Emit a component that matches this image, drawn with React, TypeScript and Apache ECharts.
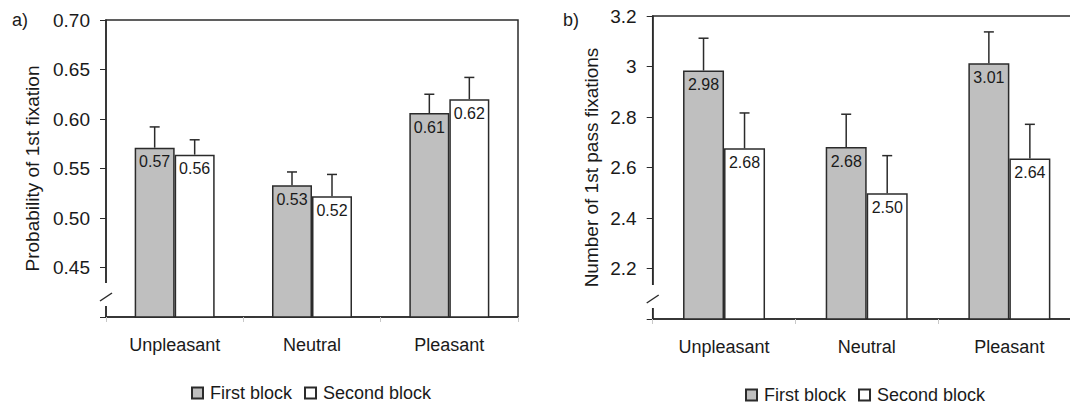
import React, { useEffect, useRef } from "react";
import * as echarts from "echarts";

const categories = ["Unpleasant", "Neutral", "Pleasant"];
const seriesNames = ["First block", "Second block"];

// Panel a) Probability of 1st fixation
const probFirst = [0.571, 0.533, 0.606];
const probFirstErr = [0.021, 0.0135, 0.019];
const probSecond = [0.564, 0.522, 0.62];
const probSecondErr = [0.015, 0.022, 0.022];

// Panel b) Number of 1st pass fixations
const numFirst = [2.984, 2.681, 3.013];
const numFirstErr = [0.128, 0.13, 0.124];
const numSecond = [2.676, 2.498, 2.636];
const numSecondErr = [0.14, 0.149, 0.135];

const FONT = "'Liberation Sans', Arial, sans-serif";
const DARK = "#2b2b2b";
const GRAY = "#bfbfbf";

const W = 1090;
const H = 404;
const gridA = { left: 106, top: 20, right: W - 518, bottom: H - 317 };
const gridB = { left: 652.7, top: 16, right: W - 1080.7, bottom: H - 319 };
const barWA = 40;
const barWB = 41;

function errSeries(name: string, xi: number, vals: number[], errs: number[], offset: number) {
  return {
    type: "custom",
    name,
    xAxisIndex: xi,
    yAxisIndex: xi,
    z: 5,
    silent: true,
    data: vals.map((v, i) => [i, v, errs[i]]),
    renderItem: (params: any, api: any) => {
      const c = api.value(0);
      const v = api.value(1);
      const e = api.value(2);
      const base = api.coord([c, v]);
      const top = api.coord([c, v + e]);
      const x = base[0] + offset;
      const st = { stroke: DARK, lineWidth: 1.5 };
      return {
        type: "group",
        children: [
          { type: "line", shape: { x1: x, y1: base[1], x2: x, y2: top[1] }, style: st },
          { type: "line", shape: { x1: x - 5, y1: top[1], x2: x + 5, y2: top[1] }, style: st },
        ],
      };
    },
  };
}

function barSeries(name: string, xi: number, vals: number[], color: string, bw: number) {
  return {
    type: "bar",
    name,
    xAxisIndex: xi,
    yAxisIndex: xi,
    barWidth: bw,
    barGap: "0%",
    data: vals,
    itemStyle: { color, borderColor: DARK, borderWidth: 1.5 },
    label: {
      show: true,
      position: "insideTop",
      distance: 6,
      fontSize: 16,
      color: "#1a1a1a",
      fontFamily: FONT,
      formatter: (p: any) => Number(p.value).toFixed(2),
    },
  };
}

function breakMark(g: { left: number; bottom: number }) {
  const ax = g.left;
  const by = H - g.bottom;
  return [
    {
      type: "rect",
      z: 100,
      shape: { x: ax - 3, y: by - 34, width: 6, height: 23 },
      style: { fill: "#fff" },
    },
    {
      type: "line",
      z: 101,
      shape: { x1: ax - 6, y1: by - 16, x2: ax + 6, y2: by - 24 },
      style: { stroke: DARK, lineWidth: 1.5 },
    },
  ];
}

export default function App() {
  const ref = useRef<HTMLDivElement>(null);
  useEffect(() => {
    if (!ref.current) return;
    const chart = echarts.init(ref.current, null, { renderer: "svg" });
    const axisCommonX = {
      type: "category",
      data: categories,
      axisLine: { lineStyle: { color: DARK, width: 1.5 } },
      axisTick: { show: true, length: 5, lineStyle: { color: "#c8c8c8" } },
      axisLabel: { fontSize: 18, color: "#1a1a1a", margin: 19, fontFamily: FONT },
    };
    const yCommon = {
      type: "value",
      nameLocation: "middle",
      nameTextStyle: { fontSize: 19, color: "#1a1a1a", fontFamily: FONT },
      axisLine: { show: true, lineStyle: { color: DARK, width: 1.5 } },
      axisTick: { show: true, length: 6, lineStyle: { color: DARK, width: 1 } },
      splitLine: { show: false },
    };
    const legendCommon = {
      data: seriesNames,
      orient: "horizontal",
      itemWidth: 11,
      itemHeight: 11,
      itemGap: 12,
      icon: "rect",
      textStyle: { fontSize: 18, color: "#1a1a1a", fontFamily: FONT, padding: [0, 0, 0, 2] },
    };
    chart.setOption({
      animation: false,
      textStyle: { fontFamily: FONT },
      title: [
        { text: "a)", left: 7, top: 6, textStyle: { fontSize: 18, fontWeight: "normal", color: "#1a1a1a", fontFamily: FONT } },
        { text: "b)", left: 558, top: 6, textStyle: { fontSize: 18, fontWeight: "normal", color: "#1a1a1a", fontFamily: FONT } },
      ],
      legend: [
        { ...legendCommon, left: 186, top: 379 },
        { ...legendCommon, left: 740, top: 381 },
      ],
      grid: [
        { ...gridA, show: true, borderColor: DARK, borderWidth: 1.5, backgroundColor: "transparent" },
        { ...gridB, show: true, borderColor: DARK, borderWidth: 1.5, backgroundColor: "transparent" },
      ],
      xAxis: [
        { ...axisCommonX, gridIndex: 0 },
        { ...axisCommonX, gridIndex: 1 },
      ],
      yAxis: [
        {
          ...yCommon,
          gridIndex: 0,
          name: "Probability of 1st fixation",
          nameGap: 64,
          min: 0.4,
          max: 0.7,
          interval: 0.05,
          axisLabel: {
            fontSize: 19,
            color: "#1a1a1a",
            margin: 16,
            fontFamily: FONT,
            formatter: (v: number) => (v < 0.4001 ? "" : v.toFixed(2)),
          },
        },
        {
          ...yCommon,
          gridIndex: 1,
          name: "Number of 1st pass fixations",
          nameGap: 52,
          min: 2.0,
          max: 3.2,
          interval: 0.2,
          axisLabel: {
            fontSize: 19,
            color: "#1a1a1a",
            margin: 16,
            fontFamily: FONT,
            formatter: (v: number) => (v < 2.0001 ? "" : String(+v.toFixed(1))),
          },
        },
      ],
      graphic: [...breakMark(gridA), ...breakMark(gridB)],
      series: [
        barSeries(seriesNames[0], 0, probFirst, GRAY, barWA),
        barSeries(seriesNames[1], 0, probSecond, "#ffffff", barWA),
        errSeries("errA1", 0, probFirst, probFirstErr, -barWA / 2),
        errSeries("errA2", 0, probSecond, probSecondErr, barWA / 2),
        barSeries(seriesNames[0], 1, numFirst, GRAY, barWB),
        barSeries(seriesNames[1], 1, numSecond, "#ffffff", barWB),
        errSeries("errB1", 1, numFirst, numFirstErr, -barWB / 2),
        errSeries("errB2", 1, numSecond, numSecondErr, barWB / 2),
      ],
    });
    return () => chart.dispose();
  }, []);
  return (
    <div style={{ position: "fixed", left: 0, top: 0, width: 1070, height: H, overflow: "hidden", background: "#fff" }}>
      <div ref={ref} style={{ width: W, height: H }} />
    </div>
  );
}
